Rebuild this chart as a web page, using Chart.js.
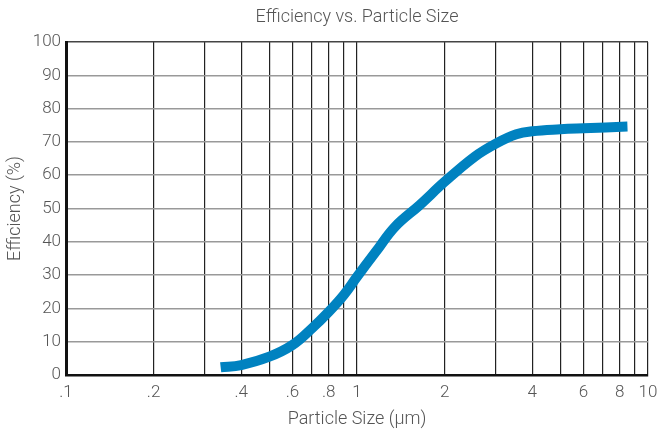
<!DOCTYPE html>
<html>
<head>
<meta charset="utf-8">
<script src="https://cdn.jsdelivr.net/npm/chart.js@4.4.1/dist/chart.umd.min.js"></script>
<style>
  html, body { margin: 0; padding: 0; background: #fff; }
  #wrap { width: 657px; height: 434px; }
</style>
</head>
<body>
<div id="wrap"><canvas id="eff-chart"></canvas></div>
<script>
// particle size (µm) and collection efficiency (%)
const sizes = [0.34, 0.4, 0.5, 0.6, 0.7, 0.8, 0.9, 1.0, 1.16, 1.35, 1.64, 2.0, 2.53, 3.0, 3.53, 4.0, 5.0, 6.0, 8.5];
const efficiency = [2.3, 3.0, 5.5, 9.0, 14, 19, 24, 29.5, 37, 44.5, 51, 58, 65.5, 69.5, 72.3, 73.2, 73.8, 74.1, 74.6];

// vertical grid lines and the ones that get a label
const xGrid = [0.1, 0.2, 0.3, 0.4, 0.5, 0.6, 0.7, 0.8, 0.9, 1, 2, 3, 4, 5, 6, 7, 8, 9, 10];
const xLabels = {0.1: '.1', 0.2: '.2', 0.4: '.4', 0.6: '.6', 0.8: '.8', 1: '1', 2: '2', 4: '4', 6: '6', 8: '8', 10: '10'};
const yTicks = [0, 10, 20, 30, 40, 50, 60, 70, 80, 90, 100];

const FONT = "Roboto, 'Liberation Sans', Arial, sans-serif";
const GREY = '#555';

const titlePlugin = {
    id: 'areaTitle',
    afterDraw(chart) {
        const {ctx, chartArea} = chart;
        ctx.save();
        ctx.font = '300 18px ' + FONT;
        ctx.fillStyle = GREY;
        ctx.textAlign = 'center';
        ctx.textBaseline = 'middle';
        ctx.fillText('Efficiency vs. Particle Size', (chartArea.left + chartArea.right) / 2, 17);
        ctx.restore();
    }
};

new Chart(document.getElementById('eff-chart').getContext('2d'), {
    type: 'line',
    data: {
        datasets: [{
            label: 'Efficiency',
            data: sizes.map((s, i) => ({x: s, y: efficiency[i]})),
            borderColor: '#0082c0',
            borderWidth: 10,
            borderCapStyle: 'butt',
            pointRadius: 0,
            tension: 0.4,
            fill: false
        }]
    },
    plugins: [titlePlugin],
    options: {
        responsive: true,
        maintainAspectRatio: false,
        animation: false,
        layout: {padding: {top: 42, right: 9, left: 0, bottom: 0}},
        plugins: {
            legend: {display: false},
            tooltip: {enabled: false}
        },
        scales: {
            x: {
                type: 'logarithmic',
                min: 0.1,
                max: 10,
                afterBuildTicks: scale => { scale.ticks = xGrid.map(v => ({value: v})); },
                afterFit: scale => {
                    scale.height = 59;
                    // let the end labels hang past the plot edges
                    scale.paddingLeft = 0;
                    scale.paddingRight = 0;
                },
                ticks: {
                    autoSkip: false,
                    maxRotation: 0,
                    color: GREY,
                    font: {family: FONT, size: 17, weight: 300},
                    padding: 8,
                    callback: v => xLabels[v] || ''
                },
                grid: {color: '#222', lineWidth: 1.2, drawTicks: false},
                border: {color: '#111', width: 2.5},
                title: {
                    display: true,
                    text: 'Particle Size (µm)',
                    color: GREY,
                    font: {family: FONT, size: 18, weight: 300},
                    padding: {top: 7}
                }
            },
            y: {
                min: 0,
                max: 100,
                afterBuildTicks: scale => { scale.ticks = yTicks.map(v => ({value: v})); },
                afterFit: scale => { scale.width = 66; },
                ticks: {
                    color: GREY,
                    font: {family: FONT, size: 17, weight: 300},
                    padding: 5
                },
                grid: {
                    color: ctx => ctx.tick && ctx.tick.value === 100 ? '#444' : '#999',
                    lineWidth: 1.5,
                    drawTicks: false
                },
                border: {color: '#111', width: 3},
                title: {
                    display: true,
                    text: 'Efficiency (%)',
                    color: GREY,
                    font: {family: FONT, size: 18, weight: 300},
                    padding: {top: 5, bottom: 4}
                }
            }
        }
    }
});
</script>
</body>
</html>
